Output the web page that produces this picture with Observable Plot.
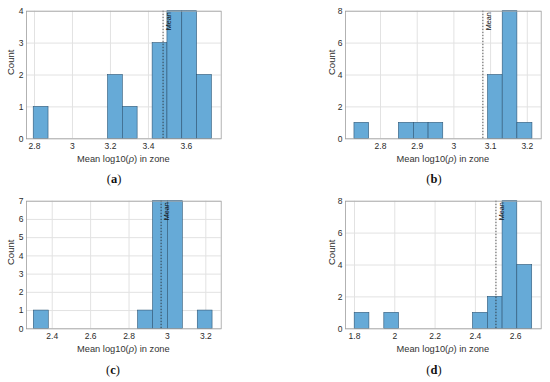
<!DOCTYPE html>
<html>
<head>
<meta charset="utf-8">
<script src="https://cdn.jsdelivr.net/npm/d3@7"></script>
<script src="https://cdn.jsdelivr.net/npm/@observablehq/plot@0.6"></script>
<style>
  html, body { margin: 0; padding: 0; background: #fff; }
  #root { position: relative; width: 550px; height: 382px; overflow: hidden; background: #fff; }
  .panel { position: absolute; }
  .xlab { position: absolute; text-align: center; font-family: "Liberation Sans", Arial, sans-serif; font-size: 9.3px; line-height: 11px; color: #333; white-space: nowrap; }
  .cap { position: absolute; text-align: center; font-family: "Liberation Serif", "DejaVu Serif", serif; font-size: 12.5px; line-height: 14px; color: #111; width: 60px; }
</style>
</head>
<body>
<div id="root"></div>
<script>
// ---- data ----
const aEdges = [2.796, 2.874, 2.952, 3.031, 3.109, 3.187, 3.265, 3.343, 3.422, 3.500, 3.578, 3.656, 3.734];
const aCounts = [1, 0, 0, 0, 0, 2, 1, 0, 3, 4, 4, 2];
const aMean = 3.477;
const aXTicks = [2.8, 3, 3.2, 3.4, 3.6];
const aYTicks = [0, 1, 2, 3, 4];

const bEdges = [2.729, 2.769, 2.810, 2.850, 2.891, 2.931, 2.971, 3.012, 3.052, 3.093, 3.133, 3.173, 3.214];
const bCounts = [1, 0, 0, 1, 1, 1, 0, 0, 0, 4, 8, 1];
const bMean = 3.079;
const bXTicks = [2.8, 2.9, 3, 3.1, 3.2];
const bYTicks = [0, 2, 4, 6, 8];

const cEdges = [2.304, 2.382, 2.459, 2.537, 2.614, 2.692, 2.770, 2.847, 2.925, 3.002, 3.080, 3.158, 3.235];
const cCounts = [1, 0, 0, 0, 0, 0, 0, 1, 7, 7, 0, 1];
const cMean = 2.967;
const cXTicks = [2.4, 2.6, 2.8, 3, 3.2];
const cYTicks = [0, 1, 2, 3, 4, 5, 6, 7];

const dEdges = [1.801, 1.874, 1.948, 2.021, 2.095, 2.168, 2.241, 2.315, 2.388, 2.462, 2.535, 2.608, 2.682];
const dCounts = [1, 0, 1, 0, 0, 0, 0, 0, 1, 2, 8, 4];
const dMean = 2.502;
const dXTicks = [1.8, 2, 2.2, 2.4, 2.6];
const dYTicks = [0, 2, 4, 6, 8];

const xLabelHTML = 'Mean log10(<i>ρ</i>) in zone';
const yLabel = "Count";
const meanLabel = "Mean";
const captions = ["a", "b", "c", "d"];

// ---- layout ----
const panels = [
  {edges: aEdges, counts: aCounts, mean: aMean, xt: aXTicks, yt: aYTicks, xdom: [2.758, 3.783], left: 0, top: 0, h: 190, ml: 26, mr: 54.3, mt: 10.7, mb: 51.7, cdx: -15.3, capX: 114},
  {edges: bEdges, counts: bCounts, mean: bMean, xt: bXTicks, yt: bYTicks, xdom: [2.7046, 3.2379], left: 275, top: 0, h: 190, ml: 70, mr: 9.3, mt: 10.7, mb: 51.7, cdx: -14, capX: 434},
  {edges: cEdges, counts: cCounts, mean: cMean, xt: cXTicks, yt: cYTicks, xdom: [2.266, 3.280], left: 0, top: 190, h: 192, ml: 26, mr: 54.3, mt: 10.7, mb: 53.7, cdx: -15.3, capX: 113},
  {edges: dEdges, counts: dCounts, mean: dMean, xt: dXTicks, yt: dYTicks, xdom: [1.7554, 2.7266], left: 275, top: 190, h: 192, ml: 70, mr: 9.3, mt: 10.7, mb: 53.7, cdx: -14, capX: 434}
];

const root = document.getElementById("root");
const fmt = d => String(d);

panels.forEach((p, i) => {
  const bars = p.counts.map((c, k) => ({x1: p.edges[k], x2: p.edges[k + 1], y: c})).filter(d => d.y > 0);
  const ymax = p.yt[p.yt.length - 1];
  const chart = Plot.plot({
    width: 275,
    height: p.h,
    marginLeft: p.ml, marginRight: p.mr, marginTop: p.mt, marginBottom: p.mb,
    style: {fontFamily: '"Liberation Sans", Arial, sans-serif', fontSize: "8.5px", color: "#2b2b2b", background: "white"},
    x: {domain: p.xdom},
    y: {domain: [0, ymax]},
    marks: [
      Plot.gridX(p.xt, {stroke: "#e2e2e2", strokeOpacity: 1}),
      Plot.gridY(p.yt, {stroke: "#e2e2e2", strokeOpacity: 1}),
      Plot.rectY(bars, {x1: "x1", x2: "x2", y: "y", fill: "#66aad7", stroke: "#2e5676", strokeWidth: 0.6}),
      Plot.ruleX([p.mean], {stroke: "#222", strokeWidth: 0.8, strokeDasharray: "1.5,1.5"}),
      Plot.text([p.mean], {x: d => d, text: () => meanLabel, frameAnchor: "top", rotate: -90, textAnchor: "end", lineAnchor: "middle", dx: 6, dy: 1, fontSize: 7.2, fill: "#111"}),
      Plot.frame({stroke: "#a0a0a0", strokeWidth: 0.8}),
      Plot.axisX(p.xt, {tickSize: 0, tickPadding: 4, label: null, tickFormat: fmt}),
      Plot.axisY(p.yt, {tickSize: 0, tickPadding: 3, label: null, tickFormat: fmt}),
      Plot.text([yLabel], {frameAnchor: "left", dx: p.cdx, rotate: -90, fontSize: 9.5, fill: "#2b2b2b"})
    ]
  });
  const wrap = document.createElement("div");
  wrap.className = "panel";
  wrap.style.left = p.left + "px";
  wrap.style.top = p.top + "px";
  wrap.appendChild(chart);
  root.appendChild(wrap);

  const fl = p.left + p.ml, fr = p.left + 275 - p.mr;
  const xl = document.createElement("div");
  xl.className = "xlab";
  xl.style.left = fl + "px";
  xl.style.width = (fr - fl) + "px";
  xl.style.top = (p.top + 153.5) + "px";
  xl.innerHTML = xLabelHTML;
  root.appendChild(xl);

  const cap = document.createElement("div");
  cap.className = "cap";
  cap.style.left = (p.capX - 30) + "px";
  cap.style.top = (p.top + (i < 2 ? 172 : 173)) + "px";
  cap.innerHTML = "(<b>" + captions[i] + "</b>)";
  root.appendChild(cap);
});
</script>
</body>
</html>
